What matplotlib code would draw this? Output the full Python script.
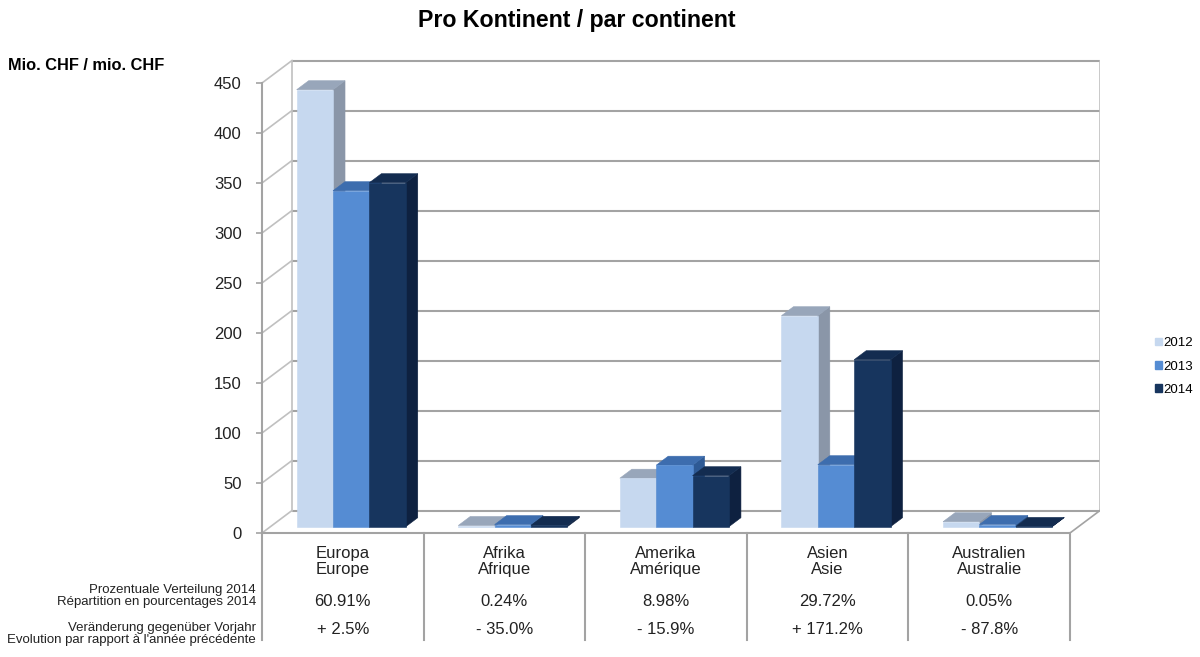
import matplotlib
matplotlib.use("Agg")
import matplotlib.pyplot as plt
from matplotlib.patches import Polygon, Patch

plt.rcParams['font.family'] = ['Liberation Sans', 'DejaVu Sans']

# ---------------- data ----------------
cats_de = ["Europa", "Afrika", "Amerika", "Asien", "Australien"]
cats_fr = ["Europe", "Afrique", "Amérique", "Asie", "Australie"]
years = ["2012", "2013", "2014"]
v2012 = [437, 1.2, 48.5, 211, 5]
v2013 = [336, 2.1, 61.5, 62, 2.2]
v2014 = [344, 1.4, 51, 167, 0.3]
share_2014 = ["60.91%", "0.24%", "8.98%", "29.72%", "0.05%"]
change = ["+ 2.5%", "- 35.0%", "- 15.9%", "+ 171.2%", "- 87.8%"]
yticks = [0, 50, 100, 150, 200, 250, 300, 350, 400, 450]
title = "Pro Kontinent / par continent"
ylabel = "Mio. CHF / mio. CHF"
row1 = "Prozentuale Verteilung 2014\nRépartition en pourcentages 2014"
row2 = "Veränderung gegenüber Vorjahr\nEvolution par rapport à l'année précédente"

series = [v2012, v2013, v2014]
front_c = ["#C6D8EF", "#558CD3", "#17355E"]
top_c = ["#98A6BA", "#3D6DAE", "#132C50"]
side_c = ["#8A96A8", "#2E5A95", "#0E2140"]

# ---------------- layout ----------------
W_PX, H_PX = 1200, 657
fig = plt.figure(figsize=(12, 6.57), dpi=100)
left_px, right_px = 262, 1100
zero_px = 533
top_val = 480
ax = fig.add_axes([left_px / W_PX, (H_PX - zero_px) / H_PX,
                   (right_px - left_px) / W_PX, top_val / H_PX])
DEPTH_PX = 30.0
ncat = len(cats_de)
xmax = ncat - 0.5
cat_px = (right_px - left_px) / (ncat + DEPTH_PX / 161.6)
DX = DEPTH_PX / cat_px          # depth shift in category units
DY = 22.5                       # depth shift in value units (1 unit = 1 px)
ax.set_xlim(-0.5, xmax + DX)
ax.set_ylim(0, top_val)
ax.patch.set_visible(False)

grid_c = "#A3A3A3"
wall_c = "#C0C0C0"
ymax = yticks[-1]
# back wall gridlines and left-wall diagonals
for v in yticks:
    ax.plot([-0.5 + DX, xmax + DX], [v + DY, v + DY], color=grid_c, lw=1.5,
            zorder=1, solid_capstyle='butt')
    ax.plot([-0.5, -0.5 + DX], [v, v + DY], color=wall_c, lw=1.2, zorder=1)
ax.plot([-0.5 + DX, -0.5 + DX], [DY, ymax + DY], color=wall_c, lw=1.2, zorder=1)
ax.plot([xmax + DX, xmax + DX], [DY, ymax + DY], color=wall_c, lw=1.2, zorder=1)
ax.plot([xmax, xmax + DX], [0, DY], color=grid_c, lw=1.2, zorder=1)

# ---------------- 3D bars ----------------
BW = 0.225
f0, f1 = 0.28, 0.68
for i in range(ncat):
    for j, vals in enumerate(series):
        v = vals[i]
        x0 = i - 1.5 * BW + j * BW
        xa, ya = x0 + f0 * DX, f0 * DY
        xb, yb = x0 + f1 * DX, f1 * DY
        side = [(xa + BW, ya), (xb + BW, yb), (xb + BW, yb + v), (xa + BW, ya + v)]
        topf = [(xa, ya + v), (xa + BW, ya + v), (xb + BW, yb + v), (xb, yb + v)]
        front = [(xa, ya), (xa + BW, ya), (xa + BW, ya + v), (xa, ya + v)]
        z = 3 + i * 0.1 + j * 0.01
        for pts, c in ((side, side_c[j]), (topf, top_c[j]), (front, front_c[j])):
            ax.add_patch(Polygon(pts, closed=True, facecolor=c, edgecolor=c,
                                 lw=0.4, zorder=z))

# ---------------- axes / spines ----------------
for s in ("top", "right"):
    ax.spines[s].set_visible(False)
ax.spines["left"].set_bounds(0, ymax)
ax.spines["left"].set_color(grid_c)
ax.spines["left"].set_linewidth(1.5)
ax.spines["bottom"].set_bounds(-0.5, xmax)
ax.spines["bottom"].set_color(grid_c)
ax.spines["bottom"].set_linewidth(1.5)
ax.set_yticks(yticks)
ax.set_yticklabels([str(t) for t in yticks], fontsize=12, color="#222222")
ax.tick_params(axis="y", length=4.5, width=1.2, color=grid_c, pad=10)
ax.set_xticks([])

# table below the axis
for k in range(ncat + 1):
    ax.plot([k - 0.5, k - 0.5], [0, -107], color=grid_c, lw=1.5,
            clip_on=False, zorder=2)
for i in range(ncat):
    ax.text(i, -28.7, cats_de[i] + "\n" + cats_fr[i], ha="center", va="center",
            fontsize=12, linespacing=1.1, color="#222222", clip_on=False)
    ax.text(i, -68, share_2014[i], ha="center", va="center", fontsize=12,
            color="#222222")
    ax.text(i, -97, change[i], ha="center", va="center", fontsize=12,
            color="#222222")
lab_x = -0.5 - 6 / cat_px
ax.text(lab_x, -63, row1, ha="right", va="center", fontsize=9.5,
        linespacing=1.05, color="#222222")
ax.text(lab_x, -101, row2, ha="right", va="center", fontsize=9.5,
        linespacing=1.05, color="#222222")

# titles
fig.text(577 / W_PX, 1 - 20 / H_PX, title, ha="center", va="center",
         fontsize=16.7, fontweight="bold")
fig.text(8 / W_PX, 1 - 65 / H_PX, ylabel, ha="left", va="center",
         fontsize=11.8, fontweight="bold")

# legend
handles = [Patch(facecolor=front_c[j], edgecolor=front_c[j]) for j in range(3)]
fig.legend(handles, years, loc="center left",
           bbox_to_anchor=(1155 / W_PX, 1 - 366.5 / H_PX), frameon=False,
           fontsize=9.5, handlelength=0.5, handleheight=0.5, handletextpad=0.15,
           labelspacing=0.85, borderaxespad=0, borderpad=0)

fig.savefig("out.png", dpi=100)
